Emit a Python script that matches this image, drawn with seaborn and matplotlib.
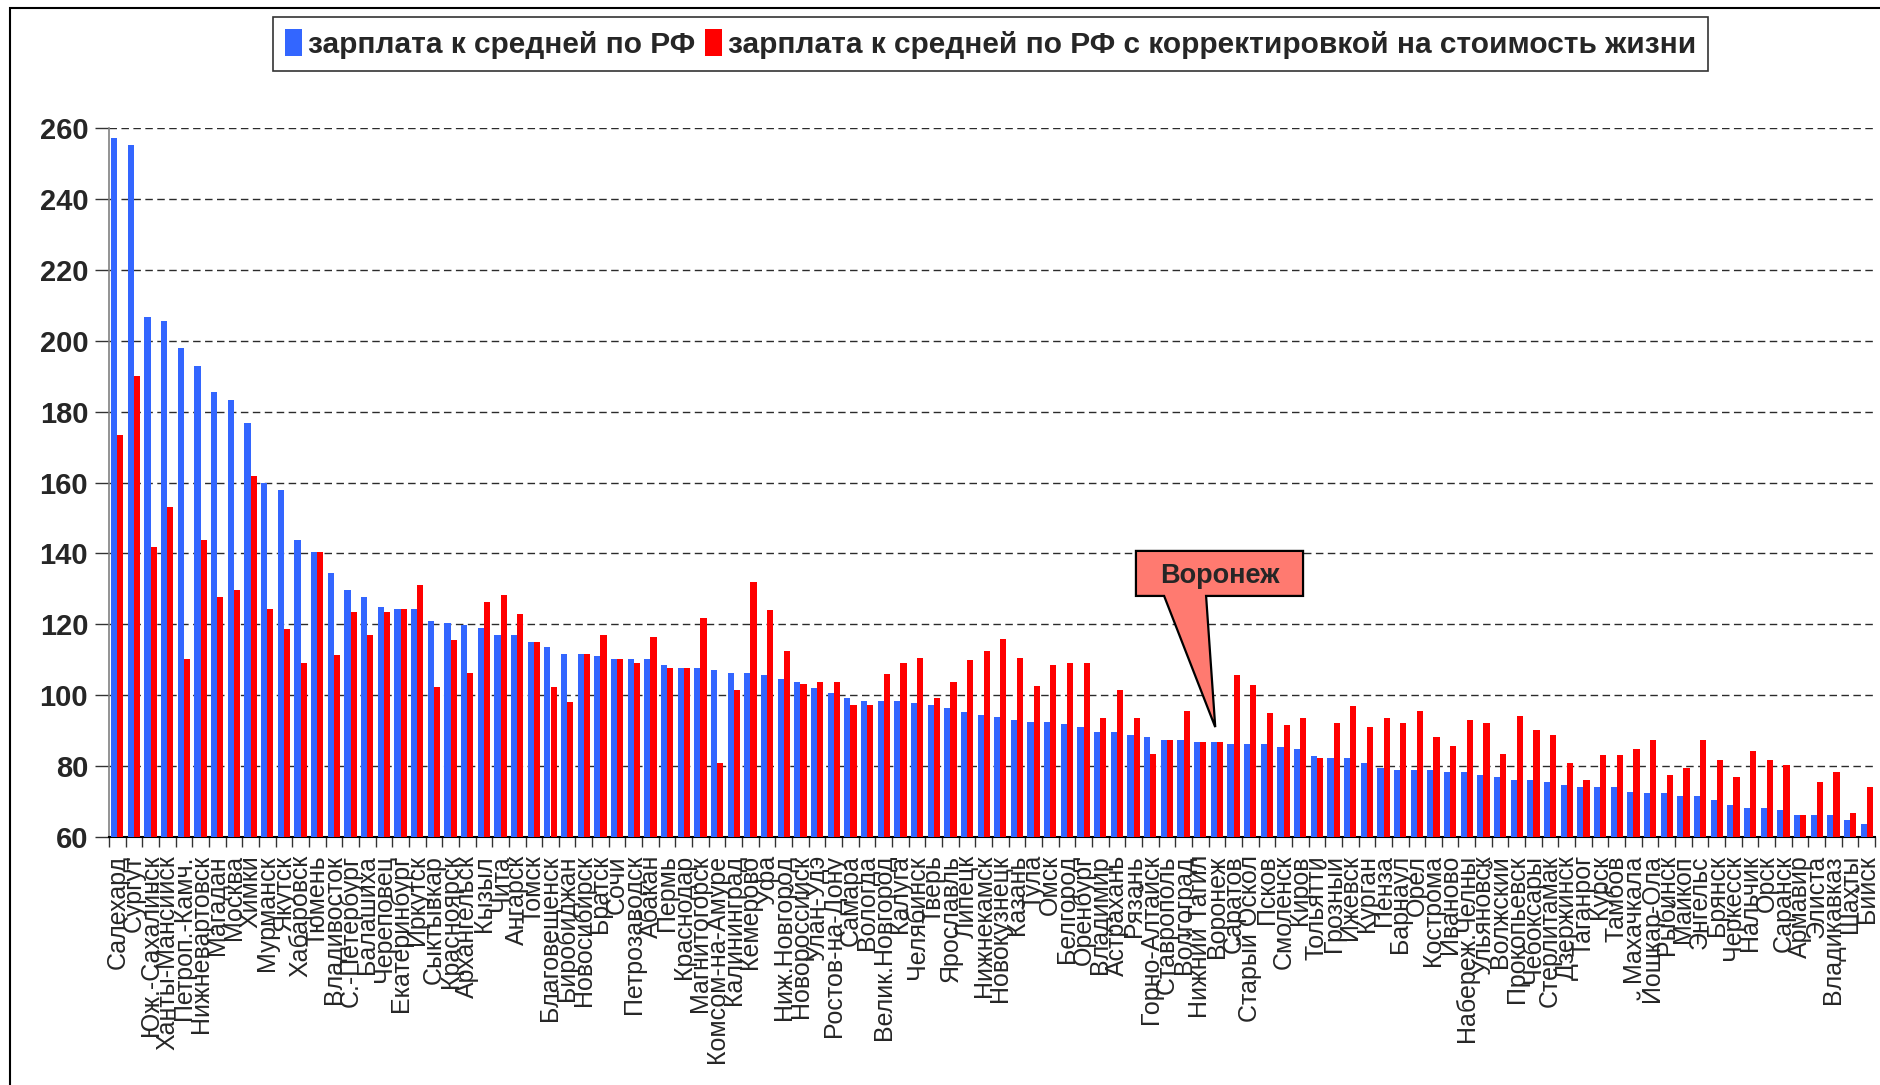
import matplotlib
matplotlib.use("Agg")
import matplotlib.pyplot as plt
from matplotlib.patches import Polygon, Rectangle
from matplotlib.ticker import FixedLocator, NullFormatter
import seaborn as sns
import pandas as pd
import numpy as np

cities = ["Салехард", "Сургут", "Юж.-Сахалинск", "Ханты-Мансийск", "Петроп.-Камч.", "Нижневартовск",
          "Магадан", "Москва", "Химки", "Мурманск", "Якутск", "Хабаровск", "Тюмень", "Владивосток",
          "С.-Петербург", "Балашиха", "Череповец", "Екатеринбург", "Иркутск",
          "Сыктывкар", "Красноярск", "Архангельск", "Кызыл", "Чита", "Ангарск", "Томск", "Благовещенск",
          "Биробиджан", "Новосибирск", "Братск", "Сочи", "Петрозаводск", "Абакан", "Пермь", "Краснодар",
          "Магнитогорск", "Комсом-на-Амуре", "Калининград", "Кемерово",
          "Уфа", "Ниж.Новгород", "Новороссийск", "Улан-Удэ", "Ростов-на-Дону", "Самара", "Вологда",
          "Велик.Новгород", "Калуга", "Челябинск", "Тверь", "Ярославль", "Липецк", "Нижнекамск",
          "Новокузнецк", "Казань", "Тула", "Омск", "Белгород", "Оренбург",
          "Владимир", "Астрахань", "Рязань", "Горно-Алтайск", "Ставрополь", "Волгоград", "Нижний Тагил",
          "Воронеж", "Саратов", "Старый Оскол", "Псков", "Смоленск", "Киров", "Тольятти", "Грозный",
          "Ижевск", "Курган", "Пенза", "Барнаул", "Орел", "Кострома",
          "Иваново", "Набереж.Челны", "Ульяновск", "Волжский", "Прокопьевск", "Чебоксары", "Стерлитамак",
          "Дзержинск", "Таганрог", "Курск", "Тамбов", "Махачкала", "Йошкар-Ола", "Рыбинск", "Майкоп",
          "Энгельс", "Брянск", "Черкесск", "Нальчик", "Орск", "Саранск", "Армавир", "Элиста",
          "Владикавказ", "Шахты", "Бийск"]

salary = [257.1, 255.1, 206.8, 205.5, 198.0, 192.9, 185.4, 183.4, 176.7, 159.9, 157.9, 143.8, 140.4, 134.5,
          129.6, 127.6, 125.0, 124.3, 124.3,
          121.0, 120.4, 119.8, 119.0, 117.1, 117.1, 115.0, 113.6, 111.7, 111.7, 111.0, 110.3, 110.3, 110.3,
          108.4, 107.7, 107.7, 107.0, 106.4, 106.4,
          105.8, 104.6, 103.8, 101.9, 100.5, 99.2, 98.5, 98.5, 98.5, 97.8, 97.2, 96.5, 95.2, 94.5, 93.8,
          93.1, 92.4, 92.4, 91.8, 91.1,
          89.6, 89.6, 88.9, 88.2, 87.5, 87.5, 86.9, 86.9, 86.2, 86.2, 86.2, 85.5, 84.8, 82.9, 82.2, 82.2,
          80.9, 79.6, 78.9, 78.9, 78.9,
          78.2, 78.2, 77.5, 76.9, 76.2, 76.2, 75.6, 74.8, 74.2, 74.2, 74.2, 72.8, 72.3, 72.3, 71.5, 71.5,
          70.3, 68.9, 68.2, 68.2, 67.6, 66.2, 66.2, 66.2, 64.9, 63.6]

salary_adj = [173.3, 190.0, 141.8, 153.2, 110.1, 143.8, 127.8, 129.6, 161.7, 124.3, 118.8, 109.0, 140.4, 111.4,
              123.6, 117.0, 123.6, 124.3, 131.1,
              102.3, 115.7, 106.3, 126.4, 128.4, 123.0, 115.0, 102.3, 98.2, 111.7, 117.1, 110.3, 109.0, 116.3,
              107.6, 107.7, 121.7, 80.8, 101.6, 131.9,
              124.0, 112.6, 103.2, 103.8, 103.8, 97.2, 97.2, 105.9, 109.2, 110.5, 99.2, 103.8, 109.9, 112.6,
              115.9, 110.5, 102.5, 108.6, 109.2, 109.2,
              93.5, 101.5, 93.5, 83.5, 87.5, 95.6, 86.9, 86.9, 105.6, 102.9, 95.0, 91.6, 93.5, 82.2, 92.2,
              96.9, 90.9, 93.5, 92.2, 95.6, 88.2,
              85.6, 93.0, 92.2, 83.5, 94.2, 90.3, 88.9, 80.9, 76.2, 83.0, 83.0, 84.9, 87.5, 77.6, 79.6, 87.5,
              81.6, 77.0, 84.2, 81.6, 80.2, 66.2, 75.6, 78.2, 66.9, 74.2]

series_names = ["зарплата к средней по РФ",
                "зарплата к средней по РФ с корректировкой на стоимость жизни"]
yticks = [60, 80, 100, 120, 140, 160, 180, 200, 220, 240, 260]
highlight_city = "Воронеж"

df = pd.DataFrame({
    "city": cities * 2,
    "series": [series_names[0]] * len(cities) + [series_names[1]] * len(cities),
    "value": salary + salary_adj,
})

sns.set_style("white")
plt.rcParams["font.family"] = ["Liberation Sans", "DejaVu Sans"]

fig = plt.figure(figsize=(18.8, 10.85), dpi=100)
ax = fig.add_axes([109 / 1880, 1 - 837 / 1085, (1875 - 109) / 1880, (837 - 128) / 1085])

sns.barplot(data=df, x="city", y="value", hue="series", order=cities, hue_order=series_names,
            palette=["#3366FF", "#FF0000"], saturation=1, width=0.74, errorbar=None,
            edgecolor="none", linewidth=0, ax=ax, zorder=3)

n = len(cities)
ax.set_xlim(-0.5, n - 0.5)
ax.set_ylim(60, 260)
ax.set_yticks(yticks)
ax.set_yticklabels([str(v) for v in yticks], fontsize=21, fontweight="bold")
ax.set_xlabel("")
ax.set_ylabel("")

for v in yticks[1:]:
    ax.axhline(v, color="#2b2b2b", lw=1.0, ls=(0, (5.4, 3.2)), zorder=1)

ax.set_xticks(range(n))
ax.set_xticklabels(cities, rotation=90, fontsize=18, va="top", ha="center")
ax.tick_params(axis="x", which="major", length=0, pad=13)
ax.xaxis.set_minor_locator(FixedLocator(np.arange(-0.5, n, 1.0)))
ax.xaxis.set_minor_formatter(NullFormatter())
ax.tick_params(axis="x", which="minor", bottom=True, length=7, width=1, color="#333333")
ax.tick_params(axis="y", which="major", left=True, length=10, width=1, color="#333333", pad=5)

for s in ["top", "right"]:
    ax.spines[s].set_visible(False)
ax.spines["left"].set_color("#808080")
ax.spines["left"].set_linewidth(1.2)
ax.spines["bottom"].set_color("black")
ax.spines["bottom"].set_linewidth(1.5)

handles, labels = ax.get_legend_handles_labels()
if ax.get_legend() is not None:
    ax.get_legend().remove()
leg = fig.legend(handles, labels, loc="center", bbox_to_anchor=(0.527, 0.9595), ncol=2,
                 prop={"size": 21.5, "weight": "bold"}, frameon=True, fancybox=False,
                 edgecolor="black", handlelength=0.55, handleheight=1.0, handletextpad=0.2,
                 columnspacing=0.35, borderpad=0.4, borderaxespad=0)
leg.get_frame().set_linewidth(1.2)

# Callout for Voronezh
vi = cities.index(highlight_city)
tip = (vi - 0.1, salary[vi] + 4.1)
x0, x1 = vi - 4.86, vi + 5.17
yb, yt = 128.0, 140.7
poly = Polygon([(x0, yt), (x1, yt), (x1, yb), (vi - 0.65, yb), tip, (vi - 3.17, yb), (x0, yb)],
               closed=True, facecolor="#FF7A70", edgecolor="black", lw=1.6, zorder=6, clip_on=False)
ax.add_patch(poly)
ax.text((x0 + x1) / 2, 133.6, highlight_city, ha="center", va="center", fontsize=19.5,
        fontweight="bold", zorder=7)

# outer frame
fig.patches.append(Rectangle((10 / 1880, -0.01), 1.0, 1 - 8 / 1085 + 0.01, transform=fig.transFigure,
                             fill=False, edgecolor="black", lw=1.5))

fig.savefig("out.png", dpi=100, facecolor="white")
